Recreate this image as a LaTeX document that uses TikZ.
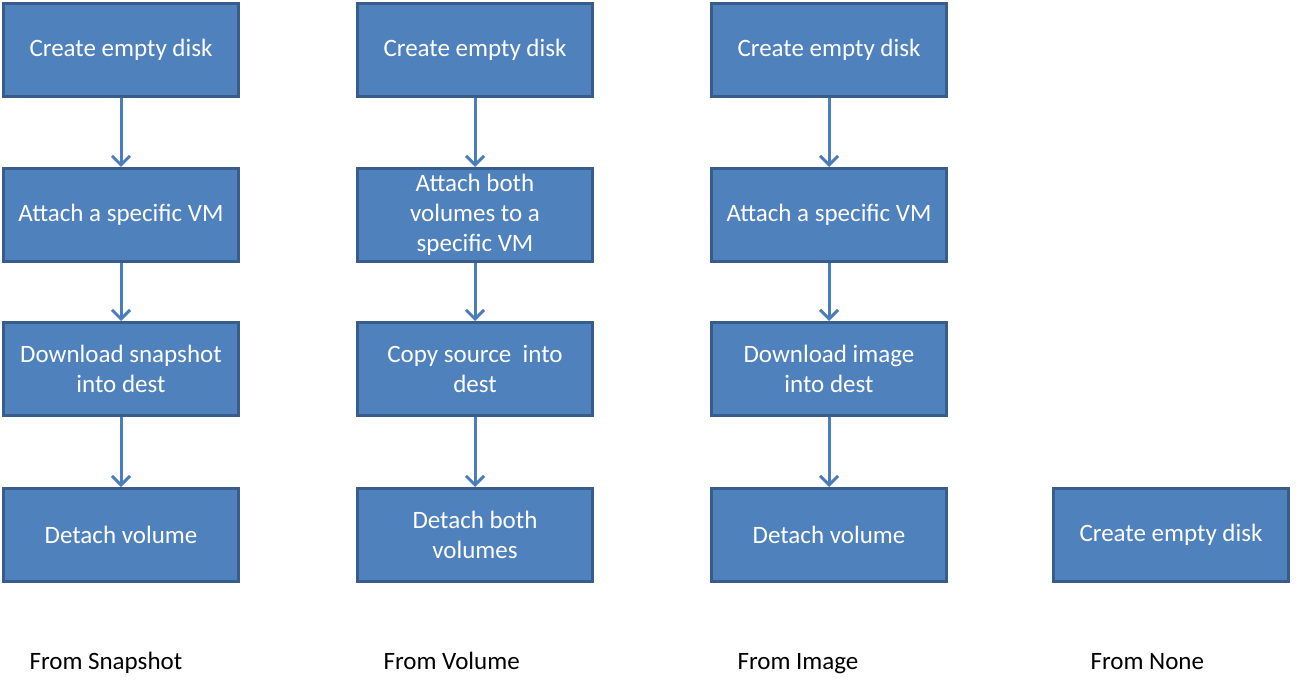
\documentclass[tikz,border=0pt]{standalone}
\usepackage{fontspec}
\setmainfont{Carlito}
\usepackage{xcolor}
\usepackage{tikz}
\usetikzlibrary{arrows.meta, positioning}

\definecolor{boxfill}{HTML}{4F81BD}
\definecolor{boxline}{HTML}{385D8A}
\definecolor{flowline}{HTML}{4A7EBB}

\begin{document}
\begin{tikzpicture}[x=1pt, y=-1pt, node distance=69pt, >={Straight Barb[length=9pt, width=18pt]}]
    \tikzstyle{stage} = [rectangle, draw=boxline, fill=boxfill, line width=3pt, minimum width=235pt, minimum height=93pt, align=center, text=white, font=\fontsize{25}{30}\selectfont]
    \tikzstyle{source} = [anchor=base west, font=\fontsize{25}{30}\selectfont]
    \tikzstyle{flow} = [->, draw=flowline, line width=3pt]

    \useasboundingbox (0,0) rectangle (1303,684);

    % From Snapshot
    \node (snapcreate) [stage] at (121,50) {Create empty disk};
    \node (snapattach) [stage, below=69pt of snapcreate] {Attach a specific VM};
    \node (snapload) [stage, below=58pt of snapattach] {Download snapshot\\into dest};
    \node (snapdetach) [stage, below=70pt of snapload] {Detach volume};

    % From Volume
    \node (volcreate) [stage, right=116pt of snapcreate] {Create empty disk};
    \node (volattach) [stage, below=69pt of volcreate] {Attach both\\volumes to a\\specific VM};
    \node (volcopy) [stage, below=58pt of volattach] {Copy source~ into\\dest};
    \node (voldetach) [stage, below=70pt of volcopy] {Detach both\\volumes};

    % From Image
    \node (imgcreate) [stage, right=116pt of volcreate] {Create empty disk};
    \node (imgattach) [stage, below=69pt of imgcreate] {Attach a specific VM};
    \node (imgload) [stage, below=58pt of imgattach] {Download image\\into dest};
    \node (imgdetach) [stage, below=70pt of imgload] {Detach volume};

    % From None
    \node (nonecreate) [stage, right=104pt of imgdetach] {Create empty disk};

    % Column captions
    \node (snapsrc) [source] at ([xshift=24pt, yshift=-86pt]snapdetach.south west) {From Snapshot};
    \node (volsrc) [source] at ([xshift=24pt, yshift=-86pt]voldetach.south west) {From Volume};
    \node (imgsrc) [source] at ([xshift=24pt, yshift=-86pt]imgdetach.south west) {From Image};
    \node (nonesrc) [source] at ([xshift=35pt, yshift=-86pt]nonecreate.south west) {From None};

    % Arrows
    \draw[flow] (snapcreate) -- (snapattach);
    \draw[flow] (snapattach) -- (snapload);
    \draw[flow] (snapload) -- (snapdetach);
    \draw[flow] (volcreate) -- (volattach);
    \draw[flow] (volattach) -- (volcopy);
    \draw[flow] (volcopy) -- (voldetach);
    \draw[flow] (imgcreate) -- (imgattach);
    \draw[flow] (imgattach) -- (imgload);
    \draw[flow] (imgload) -- (imgdetach);
\end{tikzpicture}
\end{document}
